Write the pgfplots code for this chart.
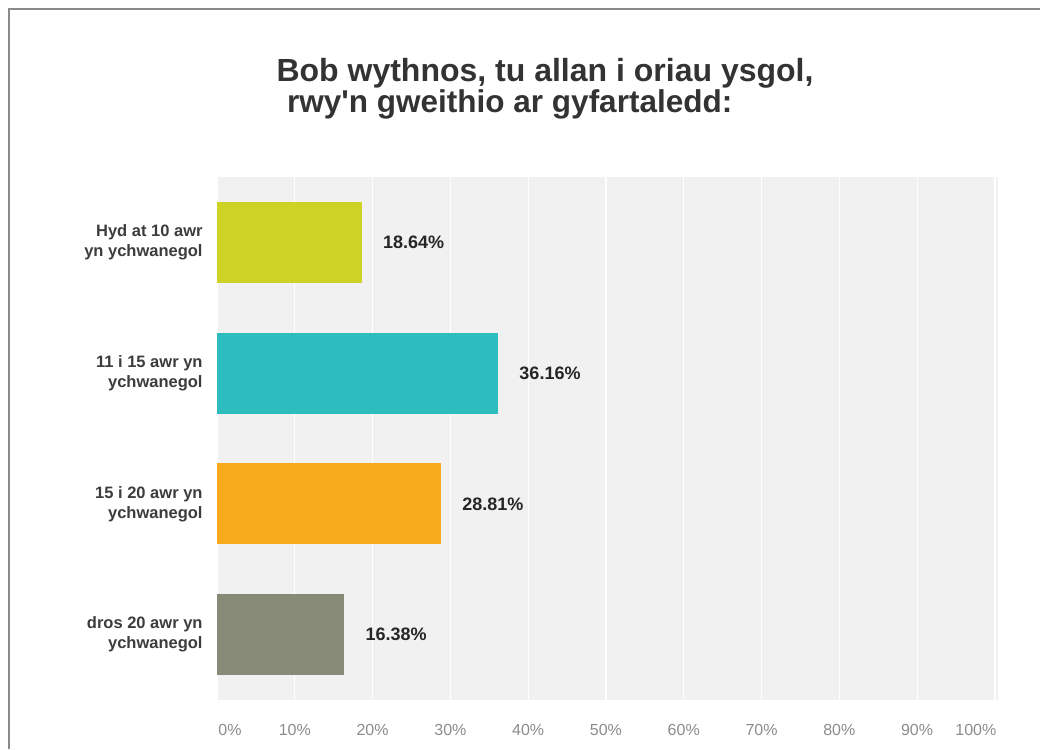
\documentclass[border=0pt]{standalone}
\usepackage{pgfplots}
\pgfplotsset{compat=1.18}
\usepackage{fontspec}
\setmainfont{Liberation Sans}
\definecolor{c1}{HTML}{CDD225}
\definecolor{c2}{HTML}{2EBDBF}
\definecolor{c3}{HTML}{F7AB1C}
\definecolor{c4}{HTML}{878A76}
\definecolor{bgc}{HTML}{F1F1F1}
\definecolor{framec}{HTML}{8A8A8A}
\definecolor{titlec}{HTML}{333333}
\definecolor{catc}{HTML}{3C3C3C}
\definecolor{tickc}{HTML}{8C8C8C}
\begin{document}
\begin{tikzpicture}[x=1pt,y=1pt]
\useasboundingbox (0,0) rectangle (1040,749);
\fill[white] (0,0) rectangle (1040,749);
\draw[framec, line width=2pt] (8.5,0) -- (8.5,740) -- (1040,740);
\node[titlec, font=\fontsize{32}{36}\selectfont\bfseries, anchor=center] at (545,676) {Bob wythnos, tu allan i oriau ysgol,};
\node[titlec, font=\fontsize{31.5}{36}\selectfont\bfseries, anchor=west, inner sep=0pt] at (287,645) {rwy\textquotesingle n gweithio ar gyfartaledd:};
\begin{axis}[
  at={(217pt,49pt)}, anchor=south west,
  width=781pt, height=523pt, scale only axis,
  xmin=0, xmax=100.4, ymin=-0.5, ymax=3.5, y dir=reverse,
  axis background/.style={fill=bgc},
  axis line style={draw=none},
  xtick={0,10,...,100},
  xticklabels={\hspace*{26pt}0\%,10\%,20\%,30\%,40\%,50\%,60\%,70\%,80\%,90\%,100\%\hspace*{38pt}},
  xticklabel style={anchor=center, inner sep=0pt, yshift=-30pt, text=tickc, font=\fontsize{16}{19}\selectfont},
  xmajorgrids, grid style={white, line width=1.2pt},
  ytick={0,1,2,3},
  yticklabels={Hyd at 10 awr\\yn ychwanegol, 11 i 15 awr yn\\ychwanegol, 15 i 20 awr yn\\ychwanegol, dros 20 awr yn\\ychwanegol},
  yticklabel style={align=right, anchor=east, inner sep=0pt, xshift=-10pt, text=catc, font=\fontsize{16.5}{20}\selectfont\bfseries},
  tick style={draw=none},
  xbar, bar width=81pt, bar shift=0pt,
  point meta=explicit symbolic,
  nodes near coords,
  nodes near coords style={anchor=west, inner sep=0pt, xshift=21pt, text=black!85, font=\fontsize{18}{21}\selectfont\bfseries},
  clip=false,
]
\addplot[fill=c1, draw=none] coordinates {(18.64,0) [18.64\%]};
\addplot[fill=c2, draw=none] coordinates {(36.16,1) [36.16\%]};
\addplot[fill=c3, draw=none] coordinates {(28.81,2) [28.81\%]};
\addplot[fill=c4, draw=none] coordinates {(16.38,3) [16.38\%]};
\end{axis}
\end{tikzpicture}
\end{document}
